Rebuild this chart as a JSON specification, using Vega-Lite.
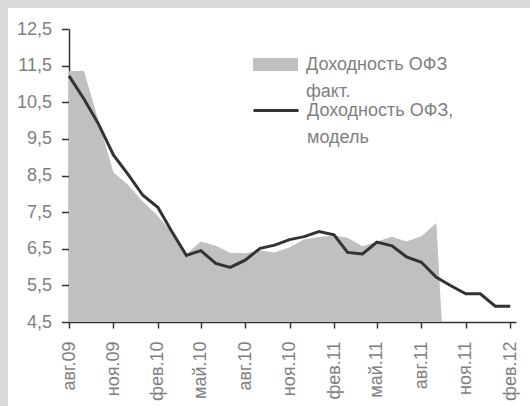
{
  "$schema": "https://vega.github.io/schema/vega-lite/v6.json",
  "background": "white",
  "padding": 0,
  "spacing": 0,
  "config": {"font": "Liberation Sans", "view": {"stroke": null}},
  "hconcat": [
    {
      "width": 8, "height": 406,
      "data": {"values": [{"s": "left"}]},
      "mark": {"type": "rect", "color": "#d9d9d9"},
      "encoding": {},
      "view": {"fill": "#d9d9d9", "stroke": null}
    },
    {
      "spacing": 12,
      "vconcat": [
        {
          "width": 522, "height": 8,
          "data": {"values": [{"s": "top"}]},
          "mark": {"type": "rect", "color": "#d9d9d9"},
          "encoding": {},
          "view": {"fill": "#d9d9d9", "stroke": null}
        },
        {
          "spacing": 0,
          "hconcat": [
            {
              "width": 1, "height": 1,
              "data": {"values": [{"s": "pad"}]},
              "mark": {"type": "rect", "opacity": 0},
              "encoding": {}
            },
            {
              "width": 447, "height": 293,
              "data": {"values": [
                {"date": "2009-08-01", "fact": 11.35, "model": 11.22},
                {"date": "2009-09-01", "fact": 11.35, "model": 10.59},
                {"date": "2009-10-01", "fact": 10.0, "model": 9.91},
                {"date": "2009-11-01", "fact": 8.59, "model": 9.06},
                {"date": "2009-12-01", "fact": 8.25, "model": 8.54},
                {"date": "2010-01-01", "fact": 7.78, "model": 7.96},
                {"date": "2010-02-01", "fact": 7.4, "model": 7.63},
                {"date": "2010-03-01", "fact": 6.95, "model": 6.99},
                {"date": "2010-04-01", "fact": 6.35, "model": 6.32},
                {"date": "2010-05-01", "fact": 6.7, "model": 6.45},
                {"date": "2010-06-01", "fact": 6.58, "model": 6.1},
                {"date": "2010-07-01", "fact": 6.39, "model": 5.99},
                {"date": "2010-08-01", "fact": 6.38, "model": 6.19},
                {"date": "2010-09-01", "fact": 6.45, "model": 6.51},
                {"date": "2010-10-01", "fact": 6.4, "model": 6.6},
                {"date": "2010-11-01", "fact": 6.54, "model": 6.75},
                {"date": "2010-12-01", "fact": 6.75, "model": 6.83},
                {"date": "2011-01-01", "fact": 6.82, "model": 6.97},
                {"date": "2011-02-01", "fact": 6.86, "model": 6.88},
                {"date": "2011-03-01", "fact": 6.8, "model": 6.4},
                {"date": "2011-04-01", "fact": 6.57, "model": 6.36},
                {"date": "2011-05-01", "fact": 6.7, "model": 6.68},
                {"date": "2011-06-01", "fact": 6.83, "model": 6.58},
                {"date": "2011-07-01", "fact": 6.7, "model": 6.28},
                {"date": "2011-08-01", "fact": 6.84, "model": 6.13},
                {"date": "2011-09-01", "fact": 7.2, "model": 5.72},
                {"date": "2011-10-01", "fact": 0, "model": 5.49},
                {"date": "2011-11-01", "fact": null, "model": 5.27},
                {"date": "2011-12-01", "fact": null, "model": 5.27},
                {"date": "2012-01-01", "fact": null, "model": 4.93},
                {"date": "2012-02-01", "fact": null, "model": 4.93}
              ]},
              "encoding": {
                "x": {
                  "field": "date", "type": "temporal",
                  "scale": {"type": "utc", "domain": [{"year": 2009, "month": 8, "date": 1, "utc": true}, {"year": 2012, "month": 2, "date": 13, "utc": true}]},
                  "axis": {
                    "title": null, "grid": false,
                    "values": [
                      {"year": 2009, "month": 8, "date": 1, "utc": true},
                      {"year": 2009, "month": 11, "date": 1, "utc": true},
                      {"year": 2010, "month": 2, "date": 1, "utc": true},
                      {"year": 2010, "month": 5, "date": 1, "utc": true},
                      {"year": 2010, "month": 8, "date": 1, "utc": true},
                      {"year": 2010, "month": 11, "date": 1, "utc": true},
                      {"year": 2011, "month": 2, "date": 1, "utc": true},
                      {"year": 2011, "month": 5, "date": 1, "utc": true},
                      {"year": 2011, "month": 8, "date": 1, "utc": true},
                      {"year": 2011, "month": 11, "date": 1, "utc": true},
                      {"year": 2012, "month": 2, "date": 1, "utc": true}
                    ],
                    "labelExpr": "['янв','фев','мар','апр','май','июн','июл','авг','сен','окт','ноя','дек'][utcmonth(datum.value)] + '.' + utcFormat(datum.value, '%y')",
                    "labelAngle": -90, "labelFontSize": 18, "labelColor": "#7f7f7f",
                    "labelPadding": 13, "labelOverlap": false, "labelFlush": false,
                    "tickSize": 6, "tickColor": "#333333", "tickWidth": 1.5,
                    "domainColor": "#333333", "domainWidth": 1.5
                  }
                },
                "y": {
                  "type": "quantitative",
                  "scale": {"domain": [4.5, 12.5], "zero": false, "nice": false},
                  "axis": {
                    "title": " ", "titleFontSize": 4, "titlePadding": 3, "titleColor": "white",
                    "grid": false,
                    "values": [4.5, 5.5, 6.5, 7.5, 8.5, 9.5, 10.5, 11.5, 12.5],
                    "labelExpr": "replace(format(datum.value, '.1f'), '.', ',')",
                    "labelFontSize": 18, "labelColor": "#7f7f7f", "labelPadding": 10,
                    "tickSize": 7.5, "tickColor": "#333333", "tickWidth": 1.5,
                    "domainColor": "#333333", "domainWidth": 1.5
                  }
                }
              },
              "layer": [
                {
                  "mark": {"type": "area", "clip": true},
                  "encoding": {
                    "y": {"field": "fact", "type": "quantitative"},
                    "fill": {
                      "datum": "Доходность ОФЗ факт.", "type": "nominal",
                      "scale": {"range": ["#c0c0c0"]},
                      "legend": {
                        "title": null, "orient": "none", "legendX": 252, "legendY": 41,
                        "padding": 0, "symbolSize": 2025, "labelOffset": 7,
                        "labelFontSize": 18, "labelColor": "#7f7f7f", "labelFont": "Liberation Sans",
                        "labelBaseline": "top", "labelLimit": 0,
                        "labelExpr": "['Доходность ОФЗ', 'факт.']",
                        "encode": {
                          "symbols": {"update": {
                            "shape": {"value": "M-1,-0.289H1V0.289H-1Z"},
                            "fill": {"value": "#c0c0c0"},
                            "stroke": {"value": "transparent"},
                            "opacity": {"value": 1}
                          }},
                          "labels": {"update": {
                            "lineHeight": {"value": 27},
                            "dy": {"value": -9}
                          }}
                        }
                      }
                    }
                  }
                },
                {
                  "mark": {"type": "line", "strokeWidth": 3},
                  "encoding": {
                    "y": {"field": "model", "type": "quantitative"},
                    "stroke": {
                      "datum": "Доходность ОФЗ, модель", "type": "nominal",
                      "scale": {"range": ["#333333"]},
                      "legend": {
                        "title": null, "orient": "none", "legendX": 252, "legendY": 86.5,
                        "padding": 0, "symbolSize": 2025, "labelOffset": 7,
                        "labelFontSize": 18, "labelColor": "#7f7f7f", "labelFont": "Liberation Sans",
                        "labelBaseline": "top", "labelLimit": 0,
                        "labelExpr": "['Доходность ОФЗ,', 'модель']",
                        "encode": {
                          "symbols": {"update": {
                            "shape": {"value": "M-1,0H1"},
                            "fill": {"value": "transparent"},
                            "stroke": {"value": "#333333"},
                            "strokeWidth": {"value": 3},
                            "opacity": {"value": 1}
                          }},
                          "labels": {"update": {
                            "lineHeight": {"value": 27},
                            "dy": {"value": -9}
                          }}
                        }
                      }
                    }
                  }
                }
              ]
            }
          ]
        }
      ]
    }
  ]
}
